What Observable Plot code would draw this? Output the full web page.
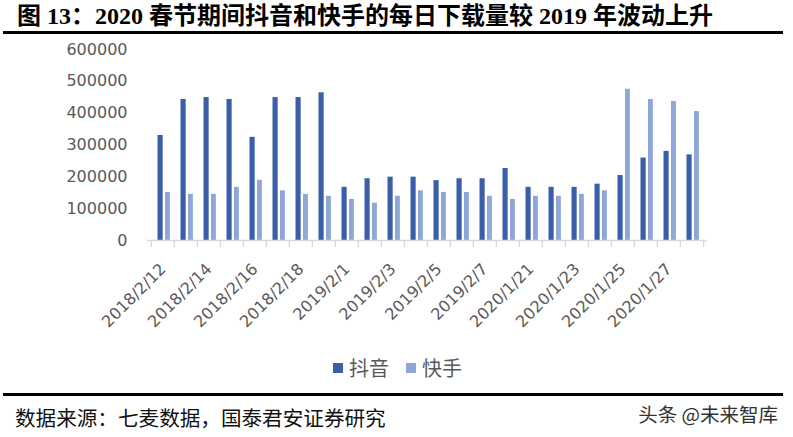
<!DOCTYPE html>
<html>
<head>
<meta charset="utf-8">
<script src="https://cdn.jsdelivr.net/npm/d3@7"></script>
<script src="https://cdn.jsdelivr.net/npm/@observablehq/plot@0.6"></script>
<style>
  body { margin: 0; background: #fff; }
  #wrap { position: relative; width: 793px; height: 437px; overflow: hidden; background: #fff; }
  .title { position: absolute; left: 17px; top: 1px; font-family: "Liberation Serif", "Noto Sans CJK SC", serif; font-weight: bold; font-size: 24px; color: #000; white-space: nowrap; line-height: 30px; }
  .rule { position: absolute; left: 3px; width: 780px; height: 3px; background: #000; }
  #chart { position: absolute; left: 0; top: 36px; }
  .legend { position: absolute; left: 333px; top: 354px; font-family: "Noto Sans CJK SC", sans-serif; font-size: 20px; color: #595959; white-space: nowrap; display: flex; align-items: center; line-height: 28px; }
  .sw { display: inline-block; width: 10px; height: 10px; margin-right: 6px; }
  .source { position: absolute; left: 15px; top: 402px; font-family: "Noto Sans CJK SC", sans-serif; font-size: 20.6px; color: #111; white-space: nowrap; line-height: 30px; }
  .mark { position: absolute; right: 15px; top: 400px; font-family: "Noto Sans CJK SC", sans-serif; font-size: 19.5px; color: #333; white-space: nowrap; line-height: 28px; }
</style>
</head>
<body>
<div id="wrap">
  <div class="title">图 13：2020 春节期间抖音和快手的每日下载量较 2019 年波动上升</div>
  <div class="rule" style="top:31px"></div>
  <div id="chart"></div>
  <div class="legend" id="legend"></div>
  <div class="rule" style="top:393px"></div>
  <div class="source">数据来源：七麦数据，国泰君安证券研究</div>
  <div class="mark">头条 @未来智库</div>
</div>
<script>
const dates = [
  "2018/2/12","2018/2/13","2018/2/14","2018/2/15","2018/2/16","2018/2/17","2018/2/18","2018/2/19",
  "2019/2/1","2019/2/2","2019/2/3","2019/2/4","2019/2/5","2019/2/6","2019/2/7","2019/2/8",
  "2020/1/21","2020/1/22","2020/1/23","2020/1/24","2020/1/25","2020/1/26","2020/1/27","2020/1/28"
];
const seriesNames = ["抖音", "快手"];
const douyin = [330000,443000,449000,443000,324000,449000,449000,464000,
                167000,194000,199000,199000,188000,194000,194000,226000,
                167000,167000,167000,177000,204000,259000,280000,269000];
const kuaishou = [151000,145000,145000,167000,189000,156000,145000,139000,
                  129000,117000,139000,156000,151000,151000,139000,129000,
                  139000,139000,145000,156000,475000,443000,437000,405000];
const yTicks = [0,100000,200000,300000,400000,500000,600000];
const labeledDates = dates.filter((d, i) => i % 2 === 0);
const colors = ["#3B5EA8", "#8FA6D8"];

const rows = dates.flatMap((d, i) => [
  {date: d, series: seriesNames[0], value: douyin[i]},
  {date: d, series: seriesNames[1], value: kuaishou[i]}
]);

const W = 793, H = 310, mL = 147, mR = 86, mT = 13, mB = 106;
const bw = (W - mL - mR) / dates.length;

const chart = Plot.plot({
  width: W, height: H,
  marginLeft: mL, marginRight: mR, marginTop: mT, marginBottom: mB,
  style: {fontFamily: "DejaVu Sans, sans-serif", fontSize: "16px", color: "#595959", background: "transparent"},
  x: {domain: dates, padding: 0, axis: null},
  y: {domain: [0, 600000], axis: null},
  marks: [
    Plot.barY(rows.filter(r => r.series === seriesNames[0]), {x: "date", y: "value", fill: colors[0], insetLeft: 6.5, insetRight: bw - 12}),
    Plot.barY(rows.filter(r => r.series === seriesNames[1]), {x: "date", y: "value", fill: colors[1], insetLeft: 14, insetRight: bw - 19.2}),
    Plot.ruleY([0], {stroke: "#d9d9d9", strokeWidth: 1.3}),
    Plot.ruleX(dates, {x: d => d, y1: 0, y2: 0, insetBottom: -7, dx: -bw / 2, stroke: "#d9d9d9", strokeWidth: 1.3}),
    Plot.ruleX([dates[dates.length - 1]], {x: d => d, y1: 0, y2: 0, insetBottom: -7, dx: bw / 2, stroke: "#d9d9d9", strokeWidth: 1.3}),
    Plot.axisY({ticks: yTicks, tickSize: 0, tickPadding: 20, tickFormat: d3.format("d"), label: null, fill: "#595959"}),
    Plot.axisX({ticks: labeledDates, tickSize: 0, tickPadding: 26, tickRotate: -45, label: null, fill: "#595959"})
  ]
});
document.getElementById("chart").appendChild(chart);

const legend = document.getElementById("legend");
seriesNames.forEach((name, i) => {
  const item = document.createElement("span");
  item.style.display = "inline-flex";
  item.style.alignItems = "center";
  item.style.marginRight = i === 0 ? "17px" : "0";
  const sw = document.createElement("span");
  sw.className = "sw";
  sw.style.background = colors[i];
  const t = document.createElement("span");
  t.textContent = name;
  item.appendChild(sw);
  item.appendChild(t);
  legend.appendChild(item);
});
</script>
</body>
</html>
